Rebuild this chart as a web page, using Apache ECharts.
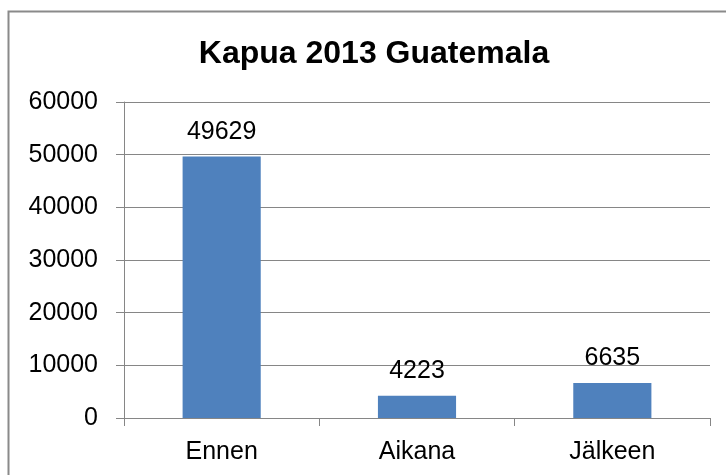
<!DOCTYPE html>
<html>
<head>
<meta charset="utf-8">
<style>
  html, body { margin: 0; padding: 0; background: #ffffff; }
  #chart { width: 726px; height: 475px; }
</style>
<script src="https://cdn.jsdelivr.net/npm/echarts@6/dist/echarts.min.js"></script>
</head>
<body>
<div id="chart"></div>
<script>
// Cloud cover 2013, Guatemala
const categories = ['Ennen', 'Aikana', 'Jälkeen'];
const values = [49629, 4223, 6635];
const yTicks = [0, 10000, 20000, 30000, 40000, 50000, 60000];

const chart = echarts.init(document.getElementById('chart'), null, { renderer: 'canvas' });
const font = '"Liberation Sans", Arial, sans-serif';
const lineGray = '#868686';

chart.setOption({
  animation: false,
  backgroundColor: '#ffffff',
  title: {
    text: 'Kapua 2013 Guatemala',
    left: 374,
    top: 38,
    textAlign: 'center',
    padding: 0,
    textStyle: { fontFamily: font, fontSize: 32, fontWeight: 'bold', color: '#000000' }
  },
  graphic: [{
    type: 'rect',
    shape: { x: 8.5, y: 11.5, width: 760, height: 520 },
    style: { fill: null, stroke: '#8a8a8a', lineWidth: 2 },
    silent: true
  }],
  grid: { left: 124, right: 16, top: 102, bottom: 57, containLabel: false },
  xAxis: {
    type: 'category',
    data: categories,
    axisLine: { lineStyle: { color: lineGray, width: 1 } },
    axisTick: { show: true, length: 8, inside: false, alignWithLabel: false, lineStyle: { color: lineGray } },
    axisLabel: { margin: 22, fontFamily: font, fontSize: 25, color: '#000000' },
    splitLine: { show: false }
  },
  yAxis: {
    type: 'value',
    min: yTicks[0],
    max: yTicks[yTicks.length - 1],
    interval: yTicks[1] - yTicks[0],
    axisLine: { show: true, lineStyle: { color: lineGray, width: 1 } },
    axisTick: { show: true, length: 8, inside: false, lineStyle: { color: lineGray } },
    axisLabel: {
      margin: 26, fontFamily: font, fontSize: 25, color: '#000000',
      formatter: (v) => String(v)
    },
    splitLine: { show: true, lineStyle: { color: lineGray, width: 1 } }
  },
  series: [{
    type: 'bar',
    data: values,
    barWidth: '40%',
    itemStyle: { color: '#4F81BD' },
    label: {
      show: true,
      position: 'top',
      distance: 12,
      fontFamily: font,
      fontSize: 25,
      color: '#000000'
    }
  }]
});
</script>
</body>
</html>
